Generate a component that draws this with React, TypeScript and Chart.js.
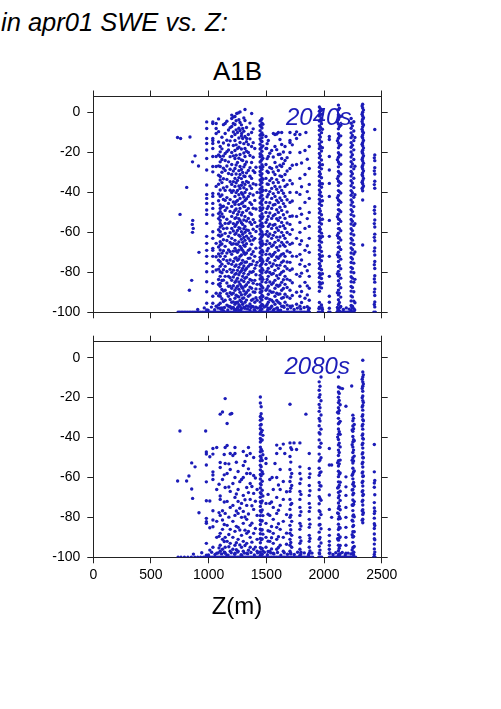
import React, { useEffect, useRef } from 'react';
import { Chart, registerables } from 'chart.js';

Chart.register(...registerables);

// ---------- axes ----------
const X_TICKS = [0, 500, 1000, 1500, 2000, 2500];
const Y_TICKS = [-100, -80, -60, -40, -20, 0];
const X_MIN = 0;
const X_MAX = 2500;
const Y_MIN = -100;
const Y_MAX = 8;

// ---------- 2040s ----------
const SCATTER_2040: [number, number][] = [
  [730, -12.5], [757, -13], [838, -12.3], [882, -21.7], [860, -24.7], [912, -26.8], [810, -37.5],
  [752, -51], [862, -54], [858, -56], [866, -58], [860, -60], [916, -70], [853, -84], [833, -89],
  [1200, -1.3], [1243, -0.5], [1272, 0.3], [1315, 1.5], [1373, -0.5], [1214, -5.5], [1286, -10.5],
  [1330, -13], [1257, -0.2], [1215, -2.2], [1503, -18], [1561, -10.5], [1633, -10], [1705, -14],
  [1762, -9.7], [1843, -10], [1872, -17], [1748, -11], [1590, -10.8],
];

const COLS_2040: [number, number[]][] = [
  [983, [-4.7, -8, -13, -15.5, -18.8, -23, -28.8, -36.3, -41, -43, -45.5, -48.8, -51, -55.5, -62, -65.5, -69, -72, -75.5, -79.7, -84.7, -89.7, -95.5, -98.8]],
  [1036, [-4.7, -5.5, -13, -14, -15.5, -18, -22, -27, -29.7, -40.5, -42, -45.5, -48, -51.3, -59.7, -63, -68, -69, -72, -77, -79.7, -85.5, -92, -95.5]],
  [1065, [-5.5, -8, -10.5, -22, -27, -37, -65.5, -72.2, -78.8, -90.5, -97]],
  [1086, [-3.2, -9.6, -14.8, -21.3, -26.7, -31.4, -35.9, -40.8, -44.2, -50.6, -53.1, -58.7, -61.4, -67.3, -70.8, -73.9, -78.4, -83.6, -86.1, -91.7, -96.3]],
  [1100, [-17, -19.7, -22, -24.7, -27, -32, -33.8, -38.8, -42, -46.3, -48, -49.7, -52, -54, -55.5, -57.3, -59.7, -62, -64.7, -66.3, -68.8, -72, -74.7, -77, -79.7, -82, -85.5, -87, -90.5, -92, -95.5, -98]],
  [1115, [-12.4, -18.2, -23.5, -29.9, -35.1, -41.3, -47.2, -50.8, -56.6, -61.3, -65.8, -70.4, -75.9, -80.2, -84.1, -88.6, -93.2, -97.8]],
  [1128, [-6.1, -15.3, -21.8, -27.9, -33.2, -37.8, -43.5, -46.9, -52.3, -58.1, -63.7, -69.2, -73.5, -78.7, -83.9, -89.4, -94.6, -99.2]],
  [1143, [-5.5, -10.5, -20.5, -24, -29, -39, -44, -49, -55.5, -60.5, -67, -72, -77, -82, -89, -94]],
  [1158, [-4.4, -13.9, -19.6, -26.8, -33.5, -37.2, -42.6, -47.8, -53.4, -57.9, -64.1, -70.3, -74.2, -79.6, -85.3, -90.7, -96.4]],
  [1172, [-8.8, -16.3, -18.8, -24.7, -30.5, -45.5, -55.5, -62, -68.8, -75.5, -82, -87, -92, -97]],
  [1186, [-7.6, -14.2, -22.1, -28.4, -34.7, -38.9, -43.6, -49.5, -54.8, -60.2, -65.1, -69.7, -73.8, -78.5, -82.7, -86.9, -90.2, -93.6, -97.1]],
  [1200, [-3, -7, -12, -20, -26, -31, -36, -40, -47, -52, -58, -63, -66, -71, -76, -80, -84, -88, -91, -95, -98]],
  [1214, [-9.8, -16.5, -21.7, -29.3, -34.6, -39.1, -44.8, -50.2, -55.6, -59.3, -65.7, -69.4, -74.6, -78.9, -82.3, -86.7, -90.4, -94.8, -97.6]],
  [1228, [-2, -6, -11, -14, -19, -23, -28, -33, -37, -42, -46, -49, -53, -57, -61, -64, -68, -73, -77, -81, -85, -89, -93, -96, -99]],
  [1238, [-4.1, -8.7, -16.2, -21.4, -26.3, -30.8, -35.2, -40.1, -44.7, -48.3, -52.6, -56.1, -60.3, -65.8, -69.2, -72.7, -76.3, -80.6, -84.2, -87.9, -91.5, -95.1, -98.7]],
  [1250, [-10, -18, -25, -34, -39, -44, -51, -55, -59, -66, -70, -74, -79, -83, -87, -92, -95, -98]],
  [1262, [-3.6, -7.9, -12.8, -17.4, -22.9, -29.1, -32.6, -36.8, -41.2, -46.1, -49.7, -53.2, -57.6, -61.4, -64.8, -68.9, -73.3, -77.5, -81.2, -84.8, -88.5, -92.3, -96.2, -99]],
  [1272, [-5, -9, -15, -21, -27, -31, -38, -43, -48, -54, -58, -62, -67, -72, -76, -80, -86, -90, -94, -97]],
  [1284, [-6.2, -11.8, -18.3, -23.7, -28.5, -33.1, -36.4, -40.2, -45.6, -51.3, -55.2, -59.7, -63.5, -68.1, -71.3, -75.4, -79.2, -83.8, -87.1, -91.2, -94.7, -98.1]],
  [1295, [-8, -13, -24, -30, -35, -41, -45, -50, -56, -61, -65, -69, -74, -78, -82, -88, -93, -96]],
  [1305, [-2.7, -9.4, -15.6, -20.3, -27.2, -31.8, -37.7, -42.3, -46.9, -53.8, -58.2, -62.6, -66.4, -70.1, -76.8, -80.5, -84.6, -89.3, -92.8, -97.4]],
  [1315, [-4, -12, -18, -22, -26, -32, -36, -40, -44, -47, -52, -57, -60, -64, -67, -71, -75, -79, -83, -87, -91, -95, -98]],
  [1328, [-7.5, -14.6, -19.4, -24.8, -30.2, -34.5, -38.6, -43.2, -49.1, -54.3, -58.8, -61.9, -65.7, -70.3, -74.8, -78.1, -82.4, -86.2, -90.1, -93.9, -96.8]],
  [1344, [-11, -16, -20, -29, -35, -42, -48, -53, -59, -63, -69, -73, -77, -81, -85, -89, -92, -97]],
  [1358, [-5.3, -13.2, -21.5, -27.6, -31.9, -36.8, -40.6, -45.1, -50.3, -54.9, -60.4, -64.2, -68.3, -72.9, -76.1, -79.8, -83.6, -87.4, -91.3, -95.8, -98.9]],
  [1372, [-10, -17, -25, -33, -38, -46, -51, -56, -62, -66, -71, -76, -80, -84, -88, -94, -97]],
  [1386, [-8.2, -15.1, -22.4, -29.1, -35.7, -41.3, -47.9, -53.6, -58.4, -63.8, -69.7, -74.3, -79.6, -85.4, -89.8, -93.4, -97.2]],
  [1400, [-18, -30, -44, -55, -63, -72, -78, -84, -90, -95, -99]],
  [1410, [-27.4, -36.2, -48.3, -59.6, -67.9, -76.4, -81.2, -88.3, -92.7, -97.5]],
  [1420, [-40, -57, -75, -86, -94]],
  [1446, [-4.2, -6.5, -9.1, -11.4, -13.2, -15.9, -18.3, -20.6, -22.1, -24.8, -27.3, -29.5, -31.2, -33.8, -36.1, -38.4, -40.2, -42.7, -45.3, -47.6, -49.1, -51.8, -54.2, -56.5, -58.3, -60.9, -63.4, -65.1, -67.7, -70.2, -72.5, -74.1, -76.8, -79.2, -81.5, -83.3, -85.9, -88.4, -90.1, -92.6, -94.9, -97.2, -99.1]],
  [1454, [-3.8, -7.1, -10.9, -14.2, -17.8, -21.1, -24.3, -27.9, -31.6, -34.7, -38.1, -41.8, -45.2, -48.9, -52.4, -55.8, -59.3, -62.7, -66.1, -69.5, -72.9, -76.3, -79.7, -83.1, -86.6, -90, -93.4, -96.7, -99.5]],
  [1462, [-3.1, -5.4, -7.8, -10.3, -12.6, -14.5, -17.2, -19.4, -21.7, -23.5, -26.1, -28.4, -30.6, -32.9, -35.2, -37.3, -39.6, -41.4, -44.1, -46.2, -48.5, -50.7, -53.1, -55.4, -57.2, -59.8, -62.1, -64.3, -66.6, -68.9, -71.3, -73.4, -75.6, -78.1, -80.3, -82.4, -84.7, -87.2, -89.3, -91.5, -93.8, -96.1, -98.3]],
  [1470, [-5.9, -11.2, -16.7, -22.9, -27.1, -33.4, -38.9, -43.3, -47.8, -52.1, -56.9, -61.2, -65.7, -69.8, -74.6, -78.9, -83.5, -87.8, -92.1, -96.5]],
  [1497, [-12, -18, -26, -33, -39, -45, -50, -55, -61, -66, -71, -76, -80, -85, -89, -93, -97]],
  [1507, [-15.6, -23.1, -29.4, -35.8, -42.2, -48.1, -53.7, -59.5, -64.3, -69.2, -74.1, -79.3, -83.6, -88.2, -92.9, -96.1]],
  [1517, [-14, -22, -30, -36, -41, -47, -52, -57, -62, -68, -73, -78, -82, -87, -91, -95, -98]],
  [1530, [-20.4, -27.5, -34.1, -39.6, -45.2, -50.3, -55.9, -60.8, -65.6, -70.9, -75.2, -80.1, -84.8, -89.3, -93.6, -98.3]],
  [1546, [-19, -28, -33, -38, -43, -48, -53, -58, -63, -67, -72, -77, -81, -86, -90, -94, -97]],
  [1560, [-22.3, -29.8, -35.2, -40.6, -46.3, -51.7, -56.4, -61.5, -66.3, -71.1, -75.8, -80.6, -85.2, -89.9, -94.8, -99.1]],
  [1575, [-11, -17, -25, -31, -37, -42, -46, -51, -56, -60, -65, -70, -74, -79, -84, -88, -92, -96]],
  [1590, [-18.6, -27.3, -33.6, -38.4, -43.9, -48.7, -53.2, -57.8, -62.4, -67.6, -72.3, -76.5, -81.7, -86.4, -90.5, -94.1, -97.9]],
  [1604, [-10, -21, -29, -35, -40, -45, -50, -54, -59, -64, -69, -73, -78, -83, -87, -91, -95, -99]],
  [1618, [-13.5, -20.9, -26.4, -31.7, -37.3, -42.8, -47.4, -52.6, -57.1, -62.3, -66.8, -71.9, -76.4, -81.1, -86.3, -90.8, -95.6]],
  [1633, [-16, -23, -27, -32, -39, -44, -49, -55, -60, -65, -71, -75, -80, -85, -89, -93, -97]],
  [1648, [-19.8, -25.6, -33.9, -40.4, -45.6, -51.2, -56.7, -61.6, -66.2, -70.7, -74.3, -79.4, -83.7, -88.1, -92.6, -96.9]],
  [1662, [-17, -24, -31, -37, -42, -47, -53, -58, -63, -67, -72, -77, -82, -86, -91, -95]],
  [1680, [-22.6, -29.3, -36.1, -43.7, -49.8, -55.3, -60.1, -64.9, -69.3, -74.8, -78.2, -83.4, -87.6, -92.2, -96.4]],
  [1705, [-10, -15, -20, -28, -34, -40, -45, -52, -56, -61, -66, -70, -75, -79, -84, -89, -93, -97]],
  [1725, [-16.2, -26.4, -35.7, -44.3, -51.8, -58.6, -65.4, -71.9, -78.3, -85.2, -91.6, -96.8]],
  [1762, [-13, -26, -40, -52, -63, -72, -81, -90, -96]],
  [1791, [-11, -20, -33, -41, -48, -55, -60, -66, -71, -76, -82, -87, -92, -97]],
  [1805, [-25.3, -37.2, -50.9, -64.2, -73.8, -80.4, -89.6, -95.1]],
  [1835, [-19, -31, -45, -58, -69, -77, -85, -93]],
  [1855, [-23.4, -39.6, -53.1, -66.7, -79.2, -86.8, -91.3, -97.2]],
  [1872, [-28, -36, -43, -50, -57, -63, -70, -76, -82, -88, -94, -98]],
  [1960, [2.8, 0.6, -1.8, -4.3, -6.7, -8.9, -11.2, -13.6, -15.8, -18.1, -20.5, -22.7, -25.1, -27.4, -29.6, -31.9, -34.3, -36.5, -38.8, -41.2, -43.4, -45.7, -48.1, -50.3, -52.6, -55.1, -57.3, -59.5, -61.9, -64.2, -66.4, -68.8, -71.1, -73.3, -75.6, -78.1, -80.4, -82.6, -84.9, -87.3, -89.5, -95.1, -97.4]],
  [1968, [1.9, -1.1, -3.7, -7.4, -12.3, -16.9, -21.7, -26.3, -30.8, -35.4, -39.9, -44.6, -49.3, -53.8, -58.4, -62.9, -67.5, -72.2, -76.8, -81.3, -85.9, -97.9]],
  [1978, [1.5, -2.9, -5.6, -10.1, -14.7, -19.3, -23.8, -28.2, -32.7, -37.4, -41.9, -46.5, -51.2, -55.8, -60.4, -64.9, -69.6, -74.2, -78.7, -83.1, -87.8, -96.3]],
  [1986, [-0.8, -8.4, -17.6, -26.1, -35.7, -44.2, -53.4, -62.1, -71.8, -80.7, -85.3, -98.6]],
  [2046, [-12, -13.5, -22, -28.8, -35.5, -42, -54, -62, -72, -82, -92, -95, -98]],
  [2116, [-4.8, -14.1, -23.6, -33.1, -42.7, -52.2, -61.6, -71.2, -80.7, -90.2, -97.6]],
  [2125, [3.7, 1.4, -1.1, -3.5, -5.8, -8.2, -10.6, -12.9, -15.3, -17.7, -20.1, -22.4, -24.8, -27.2, -29.5, -31.9, -34.3, -36.6, -39.1, -41.5, -43.8, -46.2, -48.6, -50.9, -53.3, -55.7, -58.1, -60.4, -62.8, -65.2, -67.5, -69.9, -72.3, -74.6, -77.1, -79.5, -81.8, -84.2, -86.6, -88.9, -91.3, -93.7, -96.1, -98.4]],
  [2133, [2.1, -2.4, -7.1, -11.8, -16.6, -21.2, -25.7, -30.3, -34.9, -39.6, -44.3, -48.9, -53.5, -58.2, -62.7, -67.3, -71.9, -76.6, -81.2, -85.8, -90.4, -95.1, -99.3]],
  [2145, [-1.9, -6.4, -11.7, -16.2, -21.3, -25.9, -30.8, -35.4, -40.3, -44.9, -49.7, -54.5, -59.2, -63.8, -68.6, -73.4, -78.2, -82.9, -87.7, -92.4, -97.1]],
  [2235, [-3, -5.4, -7.9, -10.2, -12.6, -15.1, -17.4, -19.8, -22.3, -24.6, -27.1, -29.5, -31.8, -34.2, -36.7, -39.1, -41.4, -43.8, -46.3, -48.6, -51.1, -53.5, -55.8, -58.2, -60.7, -63.1, -65.4, -67.8, -70.3, -72.6, -75.1, -77.5, -79.8, -82.2, -84.7, -87.1, -89.4, -91.8, -94.3, -96.6, -99.1]],
  [2246, [-6.7, -11.5, -16.4, -21.1, -25.8, -30.6, -35.3, -40.2, -44.9, -49.6, -54.4, -59.1, -63.9, -68.6, -73.3, -78.1, -82.9, -87.6, -92.3, -97]],
  [2258, [-4.6, -9.3, -14.1, -18.7, -23.5, -28.2, -32.9, -37.6, -42.4, -47.1, -51.8, -56.5, -61.3, -66.1, -70.8, -75.4, -80.2, -84.9, -89.7, -94.4, -98.2]],
  [2268, [-12.5, -26.9, -41.2, -55.7, -69.8, -83.5, -95.2]],
  [2330, [3.2, -0.9, -4.5, -8.4, -12.1, -15.9, -19.7, -23.5, -27.3, -31.1, -34.9, -38.1]],
  [2335, [4.1, 2.3, 0.1, -1.8, -3.4, -5.6, -7.2, -9.5, -11.3, -12.8, -15.1, -16.7, -18.9, -20.4, -22.6, -24.3, -26.5, -28.1, -30.2, -31.8, -34.1, -35.7, -37.6, -39.2, -43.8, -66.3]],
  [2342, [1.2, -2.6, -6.3, -10.2, -14, -17.8, -21.6, -25.4, -29.2, -33, -36.8]],
  [2436, [-22.7, -29.2, -36.1, -48.9, -55.6, -62.5, -69.4, -76.2, -83.3, -89.9, -96.1]],
  [2440, [-8.5, -21.3, -24.1, -27.6, -30.8, -34.4, -37.9, -47.2, -50.6, -53.8, -57.3, -60.9, -64.2, -67.8, -71.3, -74.6, -78.1, -81.7, -84.9, -88.4, -91.6, -94.8, -97.3]],
];

const BOTTOM_2040: number[] = [
  735, 748, 762, 776, 790, 803, 818, 832, 846, 861, 874, 889, 903, 917, 931, 946, 960, 974, 989, 1003,
  1017, 1031, 1046, 1060, 1074, 1089, 1103, 1117, 1131, 1146, 1160, 1174, 1189, 1203, 1217, 1231, 1246,
  1260, 1274, 1289, 1303, 1317, 1331, 1346, 1360, 1374, 1389, 1403, 1417, 1431, 1446, 1460, 1474, 1489,
  1503, 1517, 1531, 1546, 1560, 1574, 1589, 1603, 1617, 1631, 1646, 1660, 1674, 1689, 1703, 1717, 1731,
  1746, 1760, 1774, 1789, 1803, 1817, 1831, 1846, 1860, 1874, 1950, 1962, 1975, 1988, 2040, 2052,
  2112, 2124, 2137, 2149, 2161, 2174, 2186, 2199, 2211, 2224, 2236, 2249, 2261, 2432, 2445,
];

const NEAR_BOTTOM_2040: [number, number][] = [
  [905, -98.6], [962, -97.8], [995, -98.9], [1024, -97.4], [1052, -98.7], [1081, -97.9], [1109, -98.5],
  [1137, -97.6], [1166, -98.8], [1193, -97.7], [1224, -98.4], [1253, -97.5], [1279, -98.9], [1309, -97.8],
  [1337, -98.3], [1366, -97.6], [1394, -98.7], [1424, -97.9], [1452, -98.2], [1481, -97.4], [1511, -98.8],
  [1539, -97.6], [1567, -98.5], [1596, -97.8], [1624, -98.9], [1653, -97.5], [1684, -98.4], [1712, -97.7],
  [1741, -98.6], [1769, -97.9], [1798, -98.3], [1828, -97.6], [1866, -98.7], [1956, -98.1], [1983, -97.7],
  [2120, -98.9], [2141, -97.5], [2168, -98.6], [2193, -97.8], [2218, -98.4], [2242, -97.6], [2266, -98.8],
];

// ---------- 2080s ----------
const SCATTER_2080: [number, number][] = [
  [751, -36.7], [731, -61.8], [809, -61.8], [829, -59.3], [853, -65.8], [861, -70.5], [882, -54.7],
  [853, -52.7], [916, -77.7], [974, -36.7], [1843, -28.3], [2160, -15.5], [2240, -14.2],
  [1200, -28], [1300, -47], [1315, -52], [1345, -45], [1360, -48], [1720, -46], [1740, -42.7],
  [1762, -46], [1620, -45.5], [1660, -48], [1575, -53], [1550, -60],
];

const COLS_2080: [number, number[]][] = [
  [980, [-47.2, -48.3, -53.8, -62.2, -71.7, -80.5, -82.2, -83, -93, -99]],
  [1010, [-49.6, -71.8, -85.2, -96.4]],
  [1037, [-45.5, -48.3, -57.2, -58.8, -61, -76.7, -81.3, -84.7, -95]],
  [1070, [-45, -66, -82, -90, -98]],
  [1090, [-63.4, -77.6, -89.5, -95.3]],
  [1100, [-28.3, -52.5, -55, -69.3, -71, -79, -88, -94, -97]],
  [1120, [-27.2, -61, -76.7, -81.3, -86, -91, -96]],
  [1135, [-48.5, -58.7, -72.3, -83.6, -92.1, -97.4]],
  [1143, [-20.5, -45, -53, -65, -78, -90, -95, -98]],
  [1160, [-33, -44, -58, -72, -84, -92, -99]],
  [1175, [-53.2, -64.8, -79.9, -88.6, -94.7]],
  [1187, [-28.3, -48, -56, -67, -75, -86, -93, -97]],
  [1210, [-49, -63, -74, -82, -90, -96]],
  [1228, [-45, -48, -60, -70, -79, -87, -94, -98]],
  [1240, [-52.4, -68.3, -76.8, -84.5, -92.7, -96.2]],
  [1255, [-57, -66, -72, -78, -85, -91, -97]],
  [1270, [-62.1, -75.4, -86.3, -93.8]],
  [1285, [-61, -73, -80, -89, -95, -99]],
  [1300, [-54, -60, -69, -77, -83, -92, -97]],
  [1315, [-71.2, -79.8, -86.4, -94.1]],
  [1330, [-49, -58, -65, -74, -81, -88, -93, -98]],
  [1345, [-55.7, -67.6, -78.3, -87.1, -96.5]],
  [1360, [-58, -63, -71, -84, -90, -95]],
  [1375, [-64.5, -74.2, -82.9, -92.4]],
  [1390, [-50, -59, -68, -76, -88, -96]],
  [1405, [-60.3, -71.9, -85.6, -94.9]],
  [1420, [-66, -79, -91, -97]],
  [1448, [-19.7, -22.7, -29.5, -31.3, -33.8, -35.6, -38.2, -40.5, -42.3, -44.8, -47.1, -49.4, -51.6, -53.9, -56.2, -58.5, -60.8, -63.1, -65.3, -67.6, -69.9, -72.2, -74.5, -76.7, -79.1, -81.4, -83.6, -85.9, -88.2, -90.5, -92.7, -95.1, -97.3, -99.2]],
  [1455, [-24.6, -28.1, -33.5, -37.4, -41.6, -45.9, -50.2, -54.6, -59.1, -63.7, -68.2, -72.8, -77.3, -81.9, -86.4, -91.1, -95.6, -98.8]],
  [1464, [-30.6, -36.4, -41.2, -46.8, -51.5, -57.1, -61.9, -66.4, -71.8, -76.3, -81.7, -86.2, -90.8, -95.6, -98.5]],
  [1470, [-38.9, -48.6, -58.2, -69.3, -79.1, -88.4, -96.9]],
  [1497, [-50.5, -53, -73, -83, -90, -95]],
  [1515, [-68.5, -78.4, -86.7, -91.9, -97.1]],
  [1530, [-61, -73, -79, -87, -92, -97]],
  [1545, [-72.3, -84.6, -90.2, -95.8]],
  [1560, [-66, -75, -81, -88, -93, -98]],
  [1590, [-43.8, -48, -60, -70, -78, -85, -91, -96]],
  [1605, [-63.8, -76.4, -83.2, -89.7, -95.1]],
  [1620, [-56, -66, -74, -86, -94]],
  [1647, [-43.3, -62, -71, -82, -90, -97]],
  [1675, [-67.2, -78.6, -87.9, -93.5]],
  [1705, [-23.3, -42.7, -49.5, -56, -62, -67, -71, -76, -80, -84, -88, -91, -94, -97]],
  [1712, [-45.1, -52.3, -59.8, -65.4, -73.6, -78.9, -86.2, -92.6, -98.2]],
  [1720, [-58, -64, -73, -82, -89, -95]],
  [1791, [-42.7, -54.7, -58, -63, -67, -71, -75, -79, -83, -86, -90, -93, -96, -99]],
  [1800, [-60.8, -68.5, -77.2, -84.3, -91.8, -97.5]],
  [1872, [-48, -55.5, -60, -64, -69, -73, -77, -81, -85, -89, -92, -95, -98]],
  [1878, [-58.2, -66.7, -75.1, -83.4, -90.6, -96.8]],
  [1958, [-12.1, -16.3, -19.8, -23.4, -26.9, -30.5, -34.1, -37.6, -41.2, -44.7, -48.3, -51.8, -55.4, -58.9, -62.5, -66.1, -69.6, -73.2, -76.7, -80.3, -83.8, -87.4, -90.9, -94.5, -97.8]],
  [1965, [-14.3, -18.6, -25.1, -31.7, -38.2, -44.9, -51.2, -57.6, -64.1, -70.5, -77.2, -83.6, -90.1, -96.4]],
  [1974, [-9.7, -21.6, -28.7, -35.8, -42.9, -50.1, -57.2, -64.3, -71.4, -78.6, -85.7, -92.8]],
  [2046, [-45.5, -53.8, -68.8, -76, -86, -89, -92, -94, -96, -98]],
  [2066, [-53.8, -80]],
  [2118, [-27.3, -39.8, -52.6, -65.3, -77.8, -90.7]],
  [2125, [-9.7, -14.7, -17.2, -19.8, -22.5, -25.1, -27.8, -30.4, -33.1, -35.7, -38.4, -41, -43.7, -46.3, -49, -51.6, -54.3, -56.9, -59.6, -62.2, -64.9, -67.5, -70.2, -72.8, -75.5, -78.1, -80.8, -83.4, -86.1, -88.7, -91.4, -94, -96.7, -99.1]],
  [2132, [-17.9, -21.4, -26.5, -32.6, -37.1, -42.8, -47.5, -53.2, -58.4, -63.9, -69.1, -74.4, -79.6, -84.9, -90.3, -95.5, -98.9]],
  [2140, [-15.2, -23.6, -31.9, -38.4, -44.7, -51.3, -57.8, -62.4, -66.9, -71.5, -76.2, -80.6, -85.3, -89.8, -94.1, -98.2]],
  [2190, [-24.3, -59.7, -64.7, -69, -75, -80, -85, -90, -94, -98]],
  [2244, [-36.2, -43.6, -51.4, -58.9, -66.3, -73.8, -81.4, -88.7, -96.3]],
  [2250, [-28.8, -31.6, -34.2, -36.9, -39.5, -42.2, -44.8, -47.5, -50.1, -52.8, -55.4, -58.1, -60.7, -63.4, -66, -68.7, -71.3, -74, -76.6, -79.3, -81.9, -84.6, -87.2, -89.9, -92.5, -95.2, -97.8]],
  [2256, [-30.4, -35.6, -41.1, -46.3, -51.7, -57.2, -62.5, -67.9, -73.4, -78.8, -84.1, -89.5, -94.9, -98.7]],
  [2262, [-33.5, -41.6, -49.3, -56.8, -64.4, -72.1, -79.7, -87.2, -94.6]],
  [2331, [-10.8, -15.4, -20.1, -24.7, -29.4, -34.2, -38.9, -43.6, -48.3, -53.1, -57.8, -62.5, -67.2, -72, -76.7, -81.4]],
  [2336, [-1.3, -7.2, -9.7, -12.1, -14.3, -16.8, -19.2, -21.5, -23.9, -26.3, -28.6, -31.1, -33.4, -35.8, -38.2, -40.5, -42.9, -45.3, -47.6, -50.1, -52.4, -54.8, -57.2, -59.5, -61.9, -64.3, -66.6, -69.1, -71.4, -73.8, -76.2, -78.5, -80.9, -82.7]],
  [2341, [-8.6, -13.2, -22.4, -31.6, -40.8, -50.1, -59.3, -68.5, -77.7]],
  [2436, [-43.5, -57.2, -62.8, -64.9, -72.6, -75.3, -78.1, -80.4, -83.2, -85.6, -88.3, -90.7, -93.4, -95.8, -98.6]],
  [2440, [-61.5, -68.7, -76.9, -84.1, -91.2, -97.4]],
];

const BOTTOM_2080: number[] = [
  735, 760, 790, 820, 850, 880, 905, 930, 955, 975, 989, 1003, 1017, 1031, 1046, 1060, 1074, 1089, 1103,
  1117, 1131, 1146, 1160, 1174, 1189, 1203, 1217, 1231, 1246, 1260, 1274, 1289, 1303, 1317, 1331, 1346,
  1360, 1374, 1389, 1403, 1417, 1431, 1446, 1460, 1474, 1489, 1503, 1517, 1531, 1546, 1560, 1574, 1589,
  1603, 1617, 1631, 1646, 1660, 1674, 1689, 1703, 1717, 1731, 1746, 1760, 1774, 1789, 1803, 1817, 1831,
  1846, 1860, 1874, 1888, 1902, 1955, 1968, 1980, 2046, 2058, 2070, 2082, 2094, 2106, 2118, 2130, 2142,
  2154, 2166, 2178, 2190, 2202, 2214, 2226, 2238, 2250, 2262, 2274, 2430, 2442,
];

const NEAR_BOTTOM_2080: [number, number][] = [
  [868, -98.4], [940, -97.7], [998, -98.8], [1026, -97.5], [1055, -98.6], [1083, -97.8], [1112, -98.3],
  [1140, -97.6], [1168, -98.9], [1196, -97.7], [1226, -98.5], [1252, -97.4], [1281, -98.7], [1308, -97.9],
  [1339, -98.2], [1367, -97.6], [1396, -98.8], [1425, -97.8], [1452, -98.4], [1483, -97.5], [1509, -98.7],
  [1538, -97.8], [1566, -98.3], [1597, -97.6], [1626, -98.9], [1655, -97.7], [1683, -98.5], [1711, -97.9],
  [1742, -98.6], [1771, -97.5], [1799, -98.4], [1829, -97.8], [1866, -98.7], [1896, -97.9], [1962, -98.2],
  [2052, -97.8], [2078, -98.6], [2102, -97.7], [2128, -98.4], [2158, -97.6], [2184, -98.8], [2209, -97.9],
  [2233, -98.3], [2258, -97.5],
];

// ---------- styles ----------
const DOT = '#1c1cb8';
const AXIS = '#222222';
const FONT = "'Liberation Sans', Arial, Helvetica, sans-serif";

function buildPoints(
  scatter: [number, number][],
  cols: [number, number[]][],
  bottom: number[],
  nearBottom: [number, number][],
) {
  const pts: { x: number; y: number }[] = [];
  scatter.forEach(([x, y]) => pts.push({ x, y }));
  cols.forEach(([x, ys]) => ys.forEach((y) => pts.push({ x, y })));
  bottom.forEach((x) => pts.push({ x, y: -100 }));
  nearBottom.forEach(([x, y]) => pts.push({ x, y }));
  return pts;
}

type PanelProps = {
  top: number;
  width: number;
  height: number;
  areaTop: number;
  areaLeft: number;
  areaRight: number;
  areaBottom: number;
  showXLabels: boolean;
  points: { x: number; y: number }[];
};

function Panel(p: PanelProps) {
  const ref = useRef<HTMLCanvasElement | null>(null);
  useEffect(() => {
    if (!ref.current) return;
    const tickFont = { family: FONT, size: 14 };
    const xTicks = (s: any) => {
      s.ticks = X_TICKS.map((v) => ({ value: v }));
    };
    const yTicks = (s: any) => {
      s.ticks = Y_TICKS.map((v) => ({ value: v }));
    };
    const plain = (v: any) => String(v);
    const grid = { drawOnChartArea: false, drawTicks: true, tickLength: 6, color: AXIS, lineWidth: 1 };
    const border = { display: true, color: AXIS, width: 1 };
    const chart = new Chart(ref.current, {
      type: 'scatter',
      data: {
        datasets: [
          {
            data: p.points,
            backgroundColor: DOT,
            borderWidth: 0,
            pointRadius: 1.7,
            pointHoverRadius: 1.7,
            xAxisID: 'x',
            yAxisID: 'y',
          },
        ],
      },
      options: {
        animation: false,
        responsive: false,
        events: [],
        layout: { padding: 0 },
        plugins: { legend: { display: false }, tooltip: { enabled: false }, title: { display: false } },
        scales: {
          x: {
            type: 'linear',
            position: 'bottom',
            min: X_MIN,
            max: X_MAX,
            afterBuildTicks: xTicks,
            grid,
            border,
            ticks: { display: p.showXLabels, font: tickFont, color: '#000', padding: 3, maxRotation: 0, callback: plain },
            afterFit: (s: any) => {
              s.height = p.height - p.areaBottom;
            },
          },
          xTop: {
            type: 'linear',
            position: 'top',
            min: X_MIN,
            max: X_MAX,
            afterBuildTicks: xTicks,
            grid,
            border,
            ticks: { display: false },
            afterFit: (s: any) => {
              s.height = p.areaTop;
            },
          },
          y: {
            type: 'linear',
            position: 'left',
            min: Y_MIN,
            max: Y_MAX,
            afterBuildTicks: yTicks,
            grid,
            border,
            ticks: { font: tickFont, color: '#000', padding: 7, callback: plain },
            afterFit: (s: any) => {
              s.width = p.areaLeft;
            },
          },
          yRight: {
            type: 'linear',
            position: 'right',
            min: Y_MIN,
            max: Y_MAX,
            afterBuildTicks: yTicks,
            grid,
            border,
            ticks: { display: false },
            afterFit: (s: any) => {
              s.width = p.width - p.areaRight;
            },
          },
        },
      } as any,
    });
    return () => chart.destroy();
  }, []);
  return (
    <canvas
      ref={ref}
      width={p.width}
      height={p.height}
      style={{ position: 'absolute', left: 0, top: p.top, width: p.width, height: p.height }}
    />
  );
}

const textBase: React.CSSProperties = {
  position: 'absolute',
  fontFamily: FONT,
  whiteSpace: 'nowrap',
  margin: 0,
};

export default function App() {
  const pts2040 = buildPoints(SCATTER_2040, COLS_2040, BOTTOM_2040, NEAR_BOTTOM_2040);
  const pts2080 = buildPoints(SCATTER_2080, COLS_2080, BOTTOM_2080, NEAR_BOTTOM_2080);
  return (
    <div style={{ position: 'absolute', left: 0, top: 0, width: 501, height: 709, background: '#fff', overflow: 'hidden' }}>
      <div style={{ ...textBase, left: 1, top: 9.5, fontSize: 25.5, lineHeight: '25.5px', fontStyle: 'italic', color: '#000' }}>
        in apr01 SWE vs. Z:
      </div>
      <div style={{ ...textBase, left: 137.5, width: 200, top: 58, fontSize: 26, lineHeight: '26px', textAlign: 'center', color: '#000' }}>
        A1B
      </div>
      <Panel top={80} width={420} height={260} areaTop={16.5} areaLeft={93.3} areaRight={381.7} areaBottom={232.3} showXLabels={false} points={pts2040} />
      <Panel top={325} width={420} height={280} areaTop={16.7} areaLeft={93.3} areaRight={381.7} areaBottom={232.3} showXLabels={true} points={pts2080} />
      <div style={{ ...textBase, left: 286, top: 105.2, fontSize: 24, lineHeight: '24px', fontStyle: 'italic', color: DOT }}>
        2040s
      </div>
      <div style={{ ...textBase, left: 284.5, top: 353.7, fontSize: 24, lineHeight: '24px', fontStyle: 'italic', color: DOT }}>
        2080s
      </div>
      <div style={{ ...textBase, left: 137, width: 200, top: 593.7, fontSize: 24, lineHeight: '24px', textAlign: 'center', color: '#000' }}>
        Z(m)
      </div>
    </div>
  );
}
